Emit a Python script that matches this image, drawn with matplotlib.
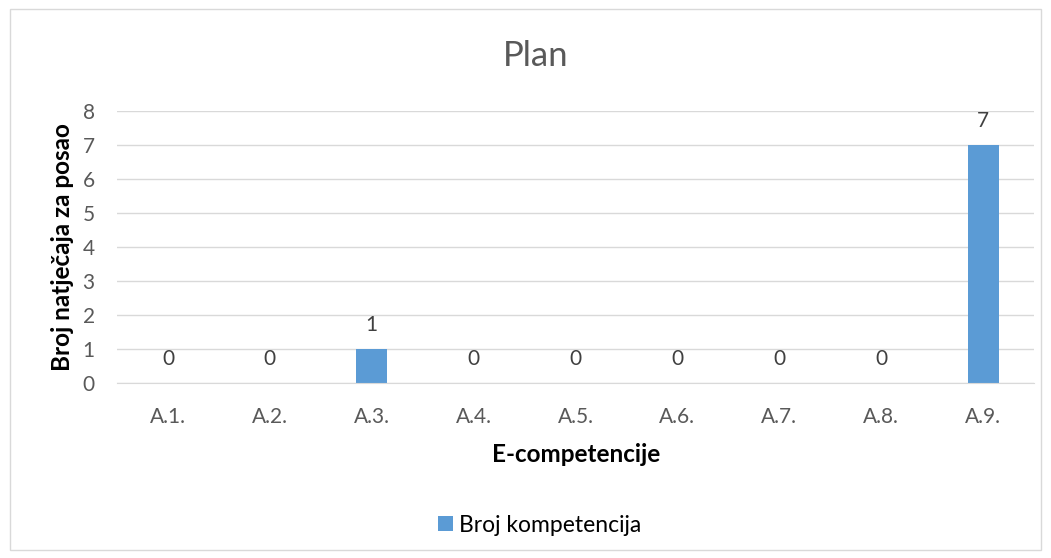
import matplotlib
matplotlib.use("Agg")
import matplotlib.pyplot as plt
from matplotlib.patches import Rectangle

categories = ["A.1.", "A.2.", "A.3.", "A.4.", "A.5.", "A.6.", "A.7.", "A.8.", "A.9."]
values = [0, 0, 1, 0, 0, 0, 0, 0, 7]
series_name = "Broj kompetencija"
title = "Plan"
xlabel = "E-competencije"
ylabel = "Broj natječaja za posao"

plt.rcParams['font.family'] = ['Lato', 'DejaVu Sans']
W, H = 1051, 558
fig = plt.figure(figsize=(W/100, H/100), dpi=100)
fig.patches.append(Rectangle((9.5/W, 8/H), 1031/W, 541/H, transform=fig.transFigure,
                             fill=False, edgecolor="#D9D9D9", linewidth=1))

ax = fig.add_axes([117/W, 1-383/H, (1034-117)/W, (383-111)/H])
bar_color = "#5B9BD5"
text_color = "#595959"
x = list(range(len(categories)))
bars = ax.bar(x, values, width=0.305, color=bar_color, label=series_name, zorder=3)
ax.set_xlim(-0.5, len(categories)-0.5)
ax.set_ylim(0, 8)
ax.set_yticks(range(0, 9))
ax.set_xticks(x)
ax.set_xticklabels(categories)
ax.tick_params(axis='both', length=0, labelsize=15, colors=text_color)
ax.tick_params(axis='x', pad=17)
ax.tick_params(axis='y', pad=16)
ax.grid(axis='y', color="#D9D9D9", linewidth=1, zorder=0)
for s in ['top', 'right', 'left']:
    ax.spines[s].set_visible(False)
ax.spines['bottom'].set_color("#D9D9D9")
ax.spines['bottom'].set_zorder(4)

for xi, v in zip(x, values):
    ax.annotate(str(v), (xi, v), xytext=(0, 10), textcoords='offset points',
                ha='center', va='bottom', fontsize=15, color="#404040")

fig.text(536/W, 1-56/H, title, ha='center', va='center', fontsize=25, color=text_color)
fig.text(576/W, 1-454/H, xlabel, ha='center', va='center', fontsize=17.5, fontweight='bold', color="#000000")
fig.text(62/W, 1-247/H, ylabel, ha='center', va='center', rotation=90, fontsize=17.5, fontweight='bold', color="#000000")

leg = fig.legend(handles=[bars], labels=[series_name], loc='center', bbox_to_anchor=(540/W, 1-525/H),
                 frameon=False, fontsize=16.5, handlelength=0.62, handleheight=0.62, handletextpad=0.3,
                 borderpad=0, borderaxespad=0)
for t in leg.get_texts():
    t.set_color("#000000")

fig.savefig("out.png", dpi=100)
